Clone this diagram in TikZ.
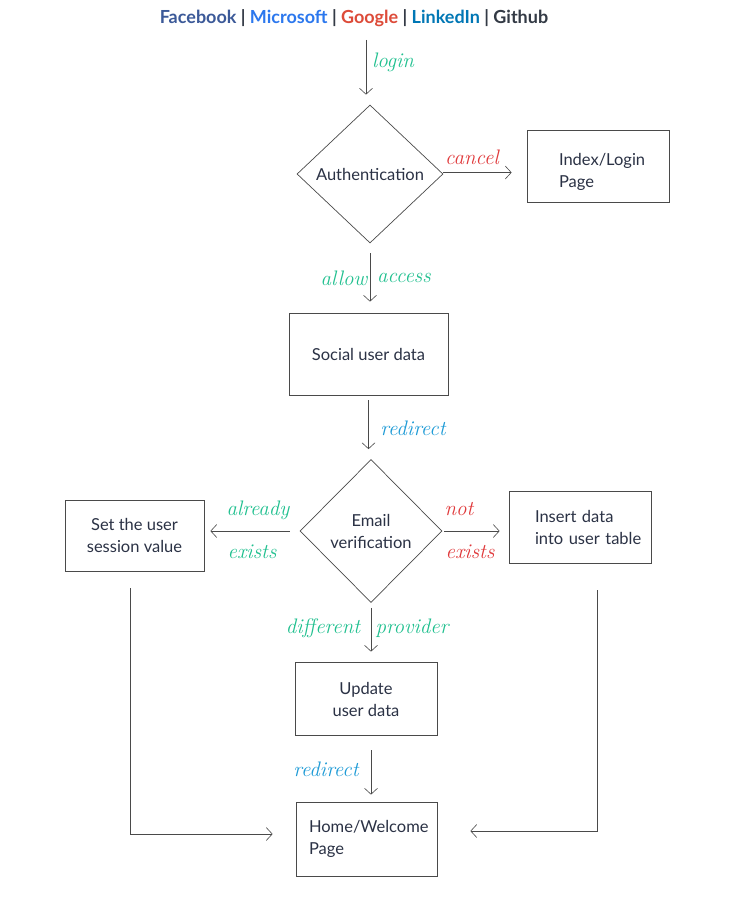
\documentclass[tikz,border=0pt]{standalone}
\usepackage{fontspec}
\setmainfont{Lato}
\newfontfamily\handfont{Latin Modern Roman}
\usetikzlibrary{shapes.geometric,arrows.meta}
\definecolor{txt}{HTML}{2B3245}
\definecolor{ln}{HTML}{4A4A4A}
\definecolor{hgreen}{HTML}{20C08F}
\definecolor{hred}{HTML}{E0383A}
\definecolor{hblue}{HTML}{1C9AD6}
\definecolor{cfb}{HTML}{3B5998}
\definecolor{cms}{HTML}{2C78EE}
\definecolor{cgo}{HTML}{DD4B39}
\definecolor{cli}{HTML}{0077B5}
\definecolor{cgh}{HTML}{333A45}
\tikzset{
  x=1pt,y=-1pt,
  boxnode/.style={draw=ln,line width=0.7pt,rectangle,inner sep=0pt,text=txt,font=\fontsize{16.5}{22}\selectfont},
  decnode/.style={draw=ln,line width=0.7pt,diamond,inner sep=0pt,text=txt,font=\fontsize{16.5}{22}\selectfont,align=center},
  conn/.style={draw=ln,line width=0.6pt,-{Straight Barb[length=6pt,width=13pt]}},
  hand/.style={font=\handfont\itshape\fontsize{21}{24}\selectfont,inner sep=0pt},
}
\begin{document}
\begin{tikzpicture}
\useasboundingbox[fill=white] (0,0) rectangle (731,900);
\node[font=\bfseries\fontsize{18}{22}\selectfont,inner sep=0pt] (title) at (354,18)
  {\textcolor{cfb}{Facebook} \textcolor{cgh}{|} \textcolor{cms}{Microsoft} \textcolor{cgh}{|} \textcolor{cgo}{Google} \textcolor{cgh}{|} \textcolor{cli}{LinkedIn} \textcolor{cgh}{|} \textcolor{cgh}{Github}};
\node[decnode,minimum width=146pt,minimum height=138pt] (auth) at (370,174) {Authentication};
\node[boxnode,minimum width=142pt,minimum height=72pt,text width=78pt,align=left] (index) at (598,166) {\rule{0pt}{24pt}\mbox{Index/Login}\\Page};
\node[boxnode,minimum width=159pt,minimum height=82pt,align=center] (social) at (368.5,354) {Social user data};
\node[decnode,minimum width=142pt,minimum height=143pt] (email) at (371,531) {Email\\verification};
\node[boxnode,minimum width=139pt,minimum height=71pt,align=center] (setuser) at (134.5,535.5) {Set the user\\session value};
\node[boxnode,minimum width=142pt,minimum height=72pt,text width=90pt,align=left] (insert) at (580,527) {\mbox{Insert data}\\\mbox{into user table}};
\node[boxnode,minimum width=142pt,minimum height=73pt,align=center] (update) at (366,698.5) {\rule{0pt}{15pt}Update\\user data};
\node[boxnode,minimum width=141pt,minimum height=74pt,text width=115pt,align=left] (home) at (366.5,839) {\mbox{Home/Welcome}\\Page};
% connectors
\draw[conn,shorten <=13pt,shorten >=10pt] ([xshift=-4pt]auth.north |- title.south) -- ([xshift=-4pt]auth.north);
\draw[conn,shorten >=15pt] ([yshift=1.5pt]auth.east) -- ([yshift=1.5pt]auth.east -| index.west);
\draw[conn,shorten <=10pt,shorten >=11pt] (auth.south) -- (auth.south |- social.north);
\draw[conn,shorten <=5pt,shorten >=10pt] (social.south) -- (social.south |- email.north);
\draw[conn,shorten <=10pt,shorten >=6pt] (email.west) -- (email.west -| setuser.east);
\draw[conn,shorten <=2pt,shorten >=9pt] (email.east) -- (email.east -| insert.west);
\draw[conn,shorten <=5pt,shorten >=10pt] (email.south) -- (email.south |- update.north);
\draw[conn,shorten <=15pt,shorten >=7pt] ([xshift=5pt]update.south) -- ([xshift=5pt]update.south |- home.north);
\draw[conn,shorten <=17pt,shorten >=23pt] ([xshift=-4.5pt]setuser.south) |- ([yshift=5pt]home.west);
\draw[conn,shorten <=27pt,shorten >=33pt] ([xshift=17pt]insert.south) |- ([yshift=8pt]home.east);
% labels
\node[hand,text=hgreen] (lbllogin) at (393,62) {login};
\node[hand,text=hred] (lblcancel) at (472,157) {cancel};
\node[hand,text=hgreen] (lblallow) at (344,278) {allow};
\node[hand,text=hgreen] (lblaccess) at (404,278) {access};
\node[hand,text=hblue] (lblredir) at (413,428) {redirect};
\node[hand,text=hgreen] (lblalready) at (258,510) {already};
\node[hand,text=hgreen] (lblexists) at (252,552) {exists};
\node[hand,text=hred] (lblnot) at (459,509) {not};
\node[hand,text=hred] (lblnexists) at (470,552) {exists};
\node[hand,text=hgreen] (lbldiff) at (323,628) {different};
\node[hand,text=hgreen] (lblprov) at (412,628) {provider};
\node[hand,text=hblue] (lblredir2) at (326,769) {redirect};
\end{tikzpicture}
\end{document}
